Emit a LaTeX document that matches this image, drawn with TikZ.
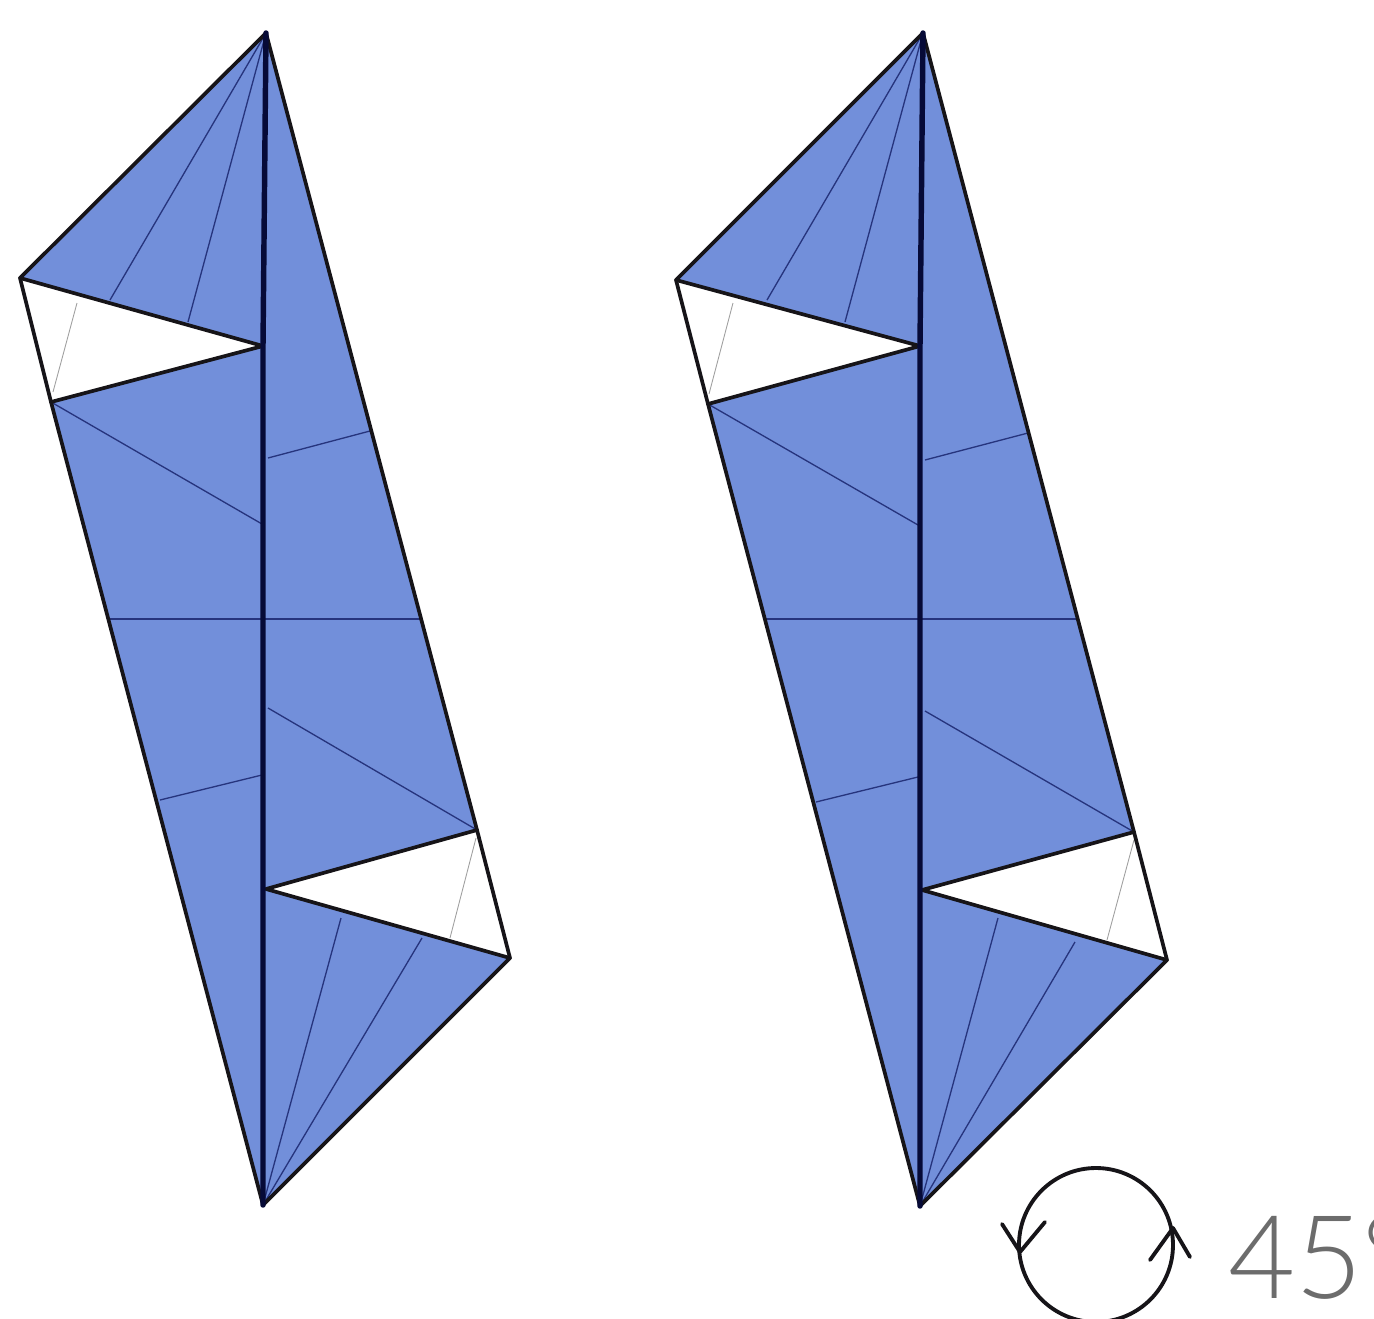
\documentclass[tikz,border=0pt]{standalone}
\usepackage{fontspec}
\setmainfont{Lato Light}
\definecolor{paper}{RGB}{114,143,218}
\definecolor{navy}{RGB}{6,10,55}
\definecolor{crease}{RGB}{38,52,125}
\definecolor{ink}{RGB}{22,20,24}
\tikzset{
  foldfill/.style={fill=paper,draw=none},
  edge/.style={draw=ink,line width=2.1pt,line join=round,line cap=round},
  spine/.style={draw=navy,line width=3.1pt,line cap=round},
  foldline/.style={draw=crease,line width=0.75pt},
  ghost/.style={draw=gray!75,line width=0.5pt},
  symbol/.style={draw=ink,line width=2.2pt,line cap=round,line join=round}
}
\begin{document}
\begin{tikzpicture}[x=0.02cm,y=-0.02cm]
\useasboundingbox (0,0) rectangle (1374,1319);
% left figure
\coordinate (aT) at (266,33); \coordinate (aL) at (20,278); \coordinate (aW) at (51,402);
\coordinate (aC) at (263,346); \coordinate (aR) at (477,830); \coordinate (aS) at (510,958);
\coordinate (aB) at (263,1205); \coordinate (aD) at (266,889);
\fill[foldfill] (aT)--(aL)--(aC)--(aW)--(aB)--(aS)--(aD)--(aR)--cycle;
\draw[foldline] (aT)--(110,300);
\draw[foldline] (aT)--(188,322);
\draw[foldline] (aW)--(262,524);
\draw[foldline] (268,458)--(370,431);
\draw[foldline] (108,619)--(421,619);
\draw[foldline] (268,708)--(aR);
\draw[foldline] (160,800)--(262,775);
\draw[foldline] (aB)--(341,918);
\draw[foldline] (aB)--(422,938);
\draw[ghost] (77,303)--(53,392);
\draw[ghost] (476,838)--(450,938);
\draw[edge] (aT)--(aL)--(aW)--(aB)--(aS)--(aR)--(aT);
\draw[edge] (aL)--(aC)--(aW);
\draw[edge] (aR)--(aD)--(aS);
\draw[spine] (aT)--(aC)--(aB);
% right figure
\coordinate (bT) at (923,33); \coordinate (bL) at (676,280); \coordinate (bW) at (708,404);
\coordinate (bC) at (920,346); \coordinate (bR) at (1134,832); \coordinate (bS) at (1167,960);
\coordinate (bB) at (920,1206); \coordinate (bD) at (922,890);
\fill[foldfill] (bT)--(bL)--(bC)--(bW)--(bB)--(bS)--(bD)--(bR)--cycle;
\draw[foldline] (bT)--(767,300);
\draw[foldline] (bT)--(845,322);
\draw[foldline] (bW)--(918,525);
\draw[foldline] (925,460)--(1028,433);
\draw[foldline] (764,619)--(1078,619);
\draw[foldline] (925,711)--(bR);
\draw[foldline] (816,802)--(918,777);
\draw[foldline] (bB)--(998,918);
\draw[foldline] (bB)--(1075,942);
\draw[ghost] (733,303)--(709,394);
\draw[ghost] (1134,840)--(1107,940);
\draw[edge] (bT)--(bL)--(bW)--(bB)--(bS)--(bR)--(bT);
\draw[edge] (bL)--(bC)--(bW);
\draw[edge] (bR)--(bD)--(bS);
\draw[spine] (bT)--(bC)--(bB);
% rotate symbol
\coordinate (cc) at (1096,1245);
\begin{scope}
\clip (0,0) rectangle (1374,1319);
\draw[symbol] (cc) circle [x radius=77,y radius=77];
\end{scope}
\coordinate (lt) at (1020,1252);
\coordinate (rt) at (1173,1228);
\draw[symbol] (1002,1224)--(lt)--(1045,1222);
\draw[symbol] (1150,1260)--(rt)--(1190,1257);
\node[inner sep=0pt,anchor=base west,text=gray!85!black,font=\fontsize{66}{66}\selectfont] (label) at (1228,1298) {45°};
\end{tikzpicture}
\end{document}
